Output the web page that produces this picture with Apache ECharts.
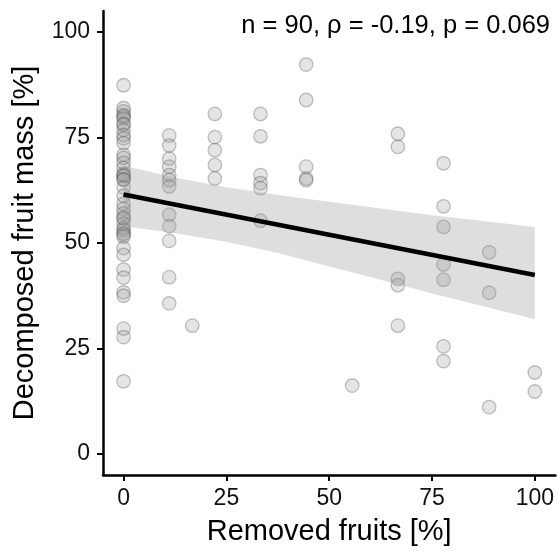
<!DOCTYPE html>
<html>
<head>
<meta charset="utf-8">
<script src="https://cdn.jsdelivr.net/npm/echarts@6/dist/echarts.min.js"></script>
<style>html,body{margin:0;padding:0;background:#fff;}#chart{width:557px;height:551px;}</style>
</head>
<body>
<div id="chart"></div>
<script>
// Removed fruits [%] levels and the decomposed fruit mass [%] observed at each level
var removedLevels = [0, 11.1, 16.7, 22.2, 33.3, 44.4, 55.6, 66.7, 77.8, 88.9, 100];
var mass_0 = [87.4, 82.0, 81.2, 80.3, 80.0, 79.5, 78.3, 78.0, 76.8, 75.6, 74.8, 73.7, 70.9, 70.2, 69.0, 67.8, 66.4, 66.0, 65.9, 65.1, 65.0, 63.2, 61.2, 59.3, 58.1, 57.0, 56.0, 55.8, 54.6, 53.5, 53.0, 52.3, 52.0, 51.5, 48.8, 47.2, 43.7, 41.8, 38.3, 37.5, 29.7, 27.7, 17.2];
var mass_11 = [75.5, 73.1, 70.0, 68.1, 66.1, 64.9, 63.4, 56.7, 54.0, 50.5, 41.9, 35.7];
var mass_17 = [30.4];
var mass_22 = [80.6, 75.1, 72.0, 68.5, 65.3];
var mass_33 = [80.6, 75.3, 66.1, 64.2, 63.0, 55.3];
var mass_44 = [92.3, 83.9, 68.1, 65.3, 64.9];
var mass_56 = [16.2];
var mass_67 = [75.9, 72.8, 41.5, 40.0, 30.4];
var mass_78 = [68.9, 58.7, 53.8, 44.9, 41.3, 25.5, 22.0];
var mass_89 = [47.8, 38.2, 11.1];
var mass_100 = [19.3, 14.8];
var massGroups = [mass_0, mass_11, mass_17, mass_22, mass_33, mass_44, mass_56, mass_67, mass_78, mass_89, mass_100];

// Linear fit and its confidence band
var fitX = [0, 100];
var fitY = [61.5, 42.4];
var bandX = [0, 12.5, 25, 37.5, 50, 62.5, 75, 87.5, 100];
var bandUpper = [68.3, 65.5, 63.2, 61.4, 59.8, 58.2, 56.6, 55.2, 53.8];
var bandLower = [54.0, 52.3, 50.3, 47.6, 44.4, 41.3, 38.0, 35.0, 31.9];

var yTicks = [0, 25, 50, 75, 100];
var xTicks = [0, 25, 50, 75, 100];
var annotation = 'n = 90, \u03c1 = -0.19, p = 0.069';

var points = [];
massGroups.forEach(function (g, i) {
  g.forEach(function (v) { points.push([removedLevels[i], v]); });
});
var fitData = fitX.map(function (x, i) { return [x, fitY[i]]; });
var bandData = bandX.map(function (x, i) { return [x, bandLower[i], bandUpper[i]]; });

var font = 'Liberation Sans, Arial, sans-serif';
var chart = echarts.init(document.getElementById('chart'), null, {renderer: 'canvas'});
chart.setOption({
  animation: false,
  backgroundColor: '#fff',
  title: {
    text: annotation,
    right: 2, top: 8,
    textStyle: {fontFamily: font, fontSize: 25.5, fontWeight: 'normal', color: '#000'}
  },
  grid: {left: 103, right: 1, top: 11, bottom: 71, containLabel: false},
  xAxis: {
    type: 'value', min: -5, max: 105,
    name: 'Removed fruits [%]', nameLocation: 'middle', nameGap: 42,
    nameTextStyle: {fontFamily: font, fontSize: 29, color: '#000'},
    axisLine: {show: true, onZero: false, lineStyle: {color: '#000', width: 2.5}},
    axisTick: {show: true, length: 6, customValues: xTicks, lineStyle: {color: '#000', width: 2}},
    axisLabel: {customValues: xTicks, fontFamily: font, fontSize: 23, color: '#111', margin: 12},
    splitLine: {show: false}
  },
  yAxis: {
    type: 'value', min: -5, max: 105,
    name: 'Decomposed fruit mass [%]', nameLocation: 'middle', nameGap: 64,
    nameTextStyle: {fontFamily: font, fontSize: 29, color: '#000'},
    axisLine: {show: true, onZero: false, lineStyle: {color: '#000', width: 2.5}},
    axisTick: {show: true, length: 6, customValues: yTicks, lineStyle: {color: '#000', width: 2}},
    axisLabel: {customValues: yTicks, fontFamily: font, fontSize: 23, color: '#111', margin: 13},
    splitLine: {show: false}
  },
  series: [
    {
      type: 'scatter', data: points, symbol: 'circle', symbolSize: 13.5,
      itemStyle: {color: 'rgba(150,150,150,0.32)', borderColor: 'rgba(80,80,80,0.42)', borderWidth: 1.3},
      z: 2
    },
    {
      type: 'custom', data: bandData, z: 3, silent: true,
      encode: {x: 0, y: [1, 2]},
      renderItem: function (params, api) {
        if (params.dataIndex !== 0) return;
        var pts = [];
        for (var i = 0; i < bandData.length; i++) pts.push(api.coord([bandData[i][0], bandData[i][2]]));
        for (var j = bandData.length - 1; j >= 0; j--) pts.push(api.coord([bandData[j][0], bandData[j][1]]));
        return {type: 'polygon', shape: {points: pts, smooth: 0}, style: {fill: 'rgba(153,153,153,0.32)', stroke: null}};
      }
    },
    {
      type: 'line', data: fitData, symbol: 'none', z: 4,
      lineStyle: {color: '#000', width: 4.5}
    }
  ]
});
</script>
</body>
</html>
